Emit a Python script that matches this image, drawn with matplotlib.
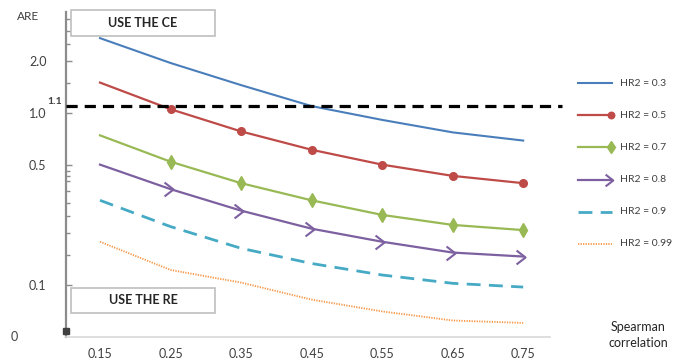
import matplotlib
matplotlib.use("Agg")
import matplotlib.pyplot as plt
from matplotlib.lines import Line2D
from matplotlib.path import Path
from matplotlib.patches import Rectangle
import numpy as np

plt.rcParams['font.family'] = ['Lato', 'DejaVu Sans']

spearman = [0.15, 0.25, 0.35, 0.45, 0.55, 0.65, 0.75]
labels = ["HR2 = 0.3", "HR2 = 0.5", "HR2 = 0.7", "HR2 = 0.8", "HR2 = 0.9", "HR2 = 0.99"]
hr03 = [2.72, 1.95, 1.45, 1.095, 0.91, 0.77, 0.69]
hr05 = [1.50, 1.05, 0.78, 0.61, 0.50, 0.43, 0.39]
hr07 = [0.74, 0.52, 0.39, 0.31, 0.255, 0.223, 0.208]
hr08 = [0.50, 0.36, 0.27, 0.212, 0.178, 0.154, 0.146]
hr09 = [0.31, 0.218, 0.163, 0.133, 0.114, 0.102, 0.097]
hr099 = [0.178, 0.122, 0.103, 0.082, 0.070, 0.062, 0.060]
threshold = 1.1
xticks = [0.15, 0.25, 0.35, 0.45, 0.55, 0.65, 0.75]
yticks = [2.0, 1.0, 0.5, 0.1]
ytick_labels = ["2.0", "1.0", "0.5", "0.1"]

chevron = Path([(-1, 1), (0.3, 0), (-1, -1)], [Path.MOVETO, Path.LINETO, Path.LINETO])

colors = ["#4a7ebb", "#be4b48", "#98b954", "#7d60a0", "#46aac5", "#f79646"]
series = [hr03, hr05, hr07, hr08, hr09, hr099]
styles = [
    dict(ls='-', marker=None),
    dict(ls='-', marker='o', ms=5.5),
    dict(ls='-', marker='d', ms=7),
    dict(ls='-', marker=chevron, ms=10, mfc='none', mew=1.5),
    dict(ls=(0, (5, 3)), marker=None),
    dict(ls=(0, (0.7, 0.7)), marker=None),
]
lws = [1.5, 1.6, 1.6, 1.6, 2.0, 1.3]

fig = plt.figure(figsize=(6.8, 3.63), dpi=100)
ax = fig.add_axes([66/680, 1-337/363, (550-66)/680, (337-12)/363])
ax.set_yscale('log')
ax.set_xlim(0.1018, 0.788)
ax.set_ylim(0.0497, 3.86)

for vals, c, st, lw in zip(series, colors, styles, lws):
    kw = dict(st)
    m = kw.pop('marker')
    ax.plot(spearman, vals, color=c, lw=lw, ls=kw.pop('ls'))
    if m is not None:
        ax.plot(spearman[1:], vals[1:], color=c, ls='none', marker=m,
                mec=c, mfc=kw.pop('mfc', c), **kw)

ax.plot([0.1018, 0.805], [threshold, threshold], color='black', lw=2.3,
        ls=(0, (3.5, 2.2)), clip_on=False, zorder=5)

for s in ['top', 'right']:
    ax.spines[s].set_visible(False)
ax.spines['left'].set_color('#8c8c8c')
ax.spines['left'].set_linewidth(1.6)
ax.spines['bottom'].set_color('#d9d9d9')
ax.spines['bottom'].set_linewidth(1.2)

ax.set_xticks(xticks)
ax.set_xticklabels([f"{v:.2f}" for v in xticks])
ax.tick_params(axis='x', length=0, pad=8, labelsize=9, labelcolor='#404040')
ax.set_yticks(yticks)
ax.set_yticklabels(ytick_labels)
ax.tick_params(axis='y', which='major', length=4, width=1, color='#8c8c8c',
               direction='in', pad=14, labelsize=9, labelcolor='#404040')
ax.set_yticks([3.5, 3.0, 2.5, 1.5, 0.46, 0.43, 0.4, 0.35, 0.3, 0.25, 0.2, 0.15], minor=True)
ax.yaxis.set_minor_formatter(matplotlib.ticker.NullFormatter())
ax.tick_params(axis='y', which='minor', length=3, width=1, color='#8c8c8c', direction='in')

# "0" label and axis break marker
ax.text(-0.1, 0.05, "0", transform=ax.get_yaxis_transform(), ha='right', va='center',
        fontsize=9, color='#404040')
ax.plot([0.1018], [0.0535], marker='s', ms=4, color='#404040', clip_on=False, zorder=6)
ax.text(-0.008, threshold, "1.1", transform=ax.get_yaxis_transform(), ha='right',
        va='bottom', fontsize=7.5, fontweight='bold', color='#404040')

# annotation boxes
for (y0, y1, txt) in [(10, 36, "USE THE CE"), (288, 313, "USE THE RE")]:
    fig.add_artist(Rectangle((71/680, 1-y1/363), (215-71)/680, (y1-y0)/363,
                             transform=fig.transFigure, fill=True, fc='white',
                             ec='#bfbfbf', lw=1.2, zorder=4))
    fig.text(143/680, 1-(y0+y1)/2/363, txt, ha='center', va='center',
             fontsize=9, fontweight='bold', color='#262626', zorder=5)

fig.text(28/680, 1-17/363, "ARE", ha='center', va='center', fontsize=8.5, color='#404040')

# legend
for i, (lab, c, st, lw) in enumerate(zip(labels, colors, styles, lws)):
    y = 1 - (83 + 32.2*i)/363
    fig.add_artist(Line2D([578/680, 612/680], [y, y], transform=fig.transFigure,
                          color=c, lw=lw, ls=st['ls']))
    if st['marker'] is not None:
        fig.add_artist(Line2D([611/680], [y], transform=fig.transFigure, color=c,
                              marker=st['marker'], ms=st.get('ms', 6) * 0.85, mec=c,
                              mfc=st.get('mfc', c), mew=st.get('mew', 1)))
    fig.text(620/680, y, lab, ha='left', va='center', fontsize=7.5, color='#404040')

fig.text(638/680, 1-335/363, "Spearman\ncorrelation", ha='center', va='center',
         fontsize=9, color='#262626', linespacing=1.4)

fig.savefig("out.png", dpi=100)
